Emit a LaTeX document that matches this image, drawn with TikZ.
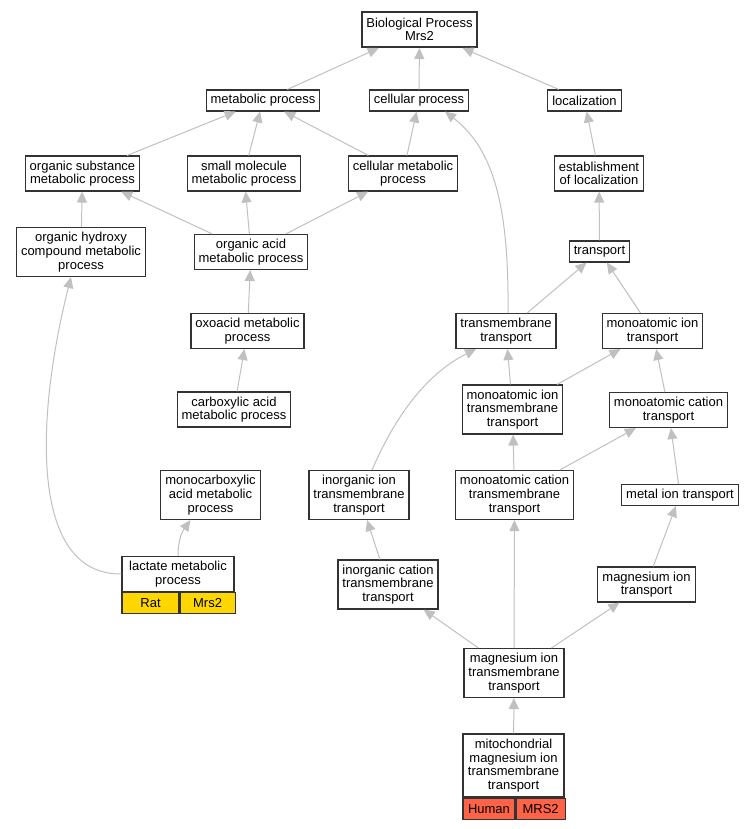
\documentclass[tikz,border=0pt]{standalone}
\usepackage{fontspec}
\setmainfont{Liberation Sans}
\usetikzlibrary{arrows.meta}
\definecolor{edgegray}{HTML}{C0C0C0}
\definecolor{ratgold}{HTML}{FFD700}
\definecolor{humanred}{HTML}{FF6347}
\begin{document}
\begin{tikzpicture}[>={Triangle[length=11pt,width=10pt]},x=1pt,y=-1pt,
	font=\fontsize{13}{13.7}\selectfont,
	term/.style={draw=black!80,line width=1.1pt,fill=white,align=center,inner xsep=4.5pt,inner ysep=3pt,minimum height=21pt},
	hh/.style={minimum height=35pt},
	hhh/.style={minimum height=49pt},
	hhhh/.style={minimum height=63pt},
	cell/.style={draw=black!80,line width=1.1pt,inner sep=0pt,minimum height=21pt,anchor=north west},
	edge/.style={->,draw=edgegray,line width=1pt}]
	\useasboundingbox (0,0) rectangle (755,829);
	% GO terms
	\node[term,hh,line width=2pt] (root) at (419.5,29.5) {Biological Process\\Mrs2};
	\node[term] (metab) at (263,100.5) {metabolic process};
	\node[term] (cellproc) at (419,100.5) {cellular process};
	\node[term] (localiz) at (584.5,100.5) {localization};
	\node[term,hh] (orgsub) at (82.5,173.5) {organic substance\\metabolic process};
	\node[term,hh] (smallmol) at (244,173.5) {small molecule\\metabolic process};
	\node[term,hh] (cellmet) at (403,173.5) {cellular metabolic\\process};
	\node[term,hh] (estab) at (599,173.5) {establishment\\of localization};
	\node[term,hhh] (hydroxy) at (81,252) {organic hydroxy\\compound metabolic\\process};
	\node[term,hh] (orgacid) at (251,252) {organic acid\\metabolic process};
	\node[term] (transp) at (599.5,251.5) {transport};
	\node[term,hh] (oxoacid) at (247.5,331) {oxoacid metabolic\\process};
	\node[term,hh] (tmtrans) at (506,331) {transmembrane\\transport};
	\node[term,hh] (monoion) at (652.5,331) {monoatomic ion\\transport};
	\node[term,hh] (carbox) at (234,409.5) {carboxylic acid\\metabolic process};
	\node[term,hhh] (monoiontm) at (512.5,409.5) {monoatomic ion\\transmembrane\\transport};
	\node[term,hh] (monocat) at (668.5,410) {monoatomic cation\\transport};
	\node[term,hhh] (monocarb) at (210.5,495) {monocarboxylic\\acid metabolic\\process};
	\node[term,hhh] (inorgion) at (359,495) {inorganic ion\\transmembrane\\transport};
	\node[term,hhh] (monocattm) at (514.5,495) {monoatomic cation\\transmembrane\\transport};
	\node[term] (metalion) at (680,495) {metal ion transport};
	\node[term,hh,minimum width=112pt] (lactate) at (178,574) {lactate metabolic\\process};
	\node[cell,fill=ratgold,minimum width=57pt] (ratorg) at (lactate.south west) {Rat};
	\node[cell,fill=ratgold,minimum width=55pt] (ratgene) at (ratorg.north east) {Mrs2};
	\node[term,hhh] (inorgcat) at (388,584.5) {inorganic cation\\transmembrane\\transport};
	\node[term,hh] (mgion) at (646.5,584.5) {magnesium ion\\transport};
	\node[term,hhh] (mgiontm) at (514,673) {magnesium ion\\transmembrane\\transport};
	\node[term,hhhh,minimum width=101pt] (mito) at (513.5,765.5) {mitochondrial\\magnesium ion\\transmembrane\\transport};
	\node[cell,fill=humanred,minimum width=52pt] (humorg) at (mito.south west) {Human};
	\node[cell,fill=humanred,minimum width=49pt] (humgene) at (humorg.north east) {MRS2};
	% is_a links, child to parent
	\foreach \c/\p in {metab/root,cellproc/root,localiz/root,orgsub/metab,smallmol/metab,
		cellmet/metab,cellmet/cellproc,estab/localiz,hydroxy/orgsub,orgacid/orgsub,
		orgacid/smallmol,orgacid/cellmet,transp/estab,oxoacid/orgacid,tmtrans/transp,
		monoion/transp,carbox/oxoacid,monoiontm/tmtrans,monoiontm/monoion,monocat/monoion,
		monocattm/monoiontm,monocattm/monocat,metalion/monocat,inorgcat/inorgion,
		mgion/metalion,mgiontm/inorgcat,mgiontm/monocattm,mgiontm/mgion,mito/mgiontm}
		\draw[edge] (\c) -- (\p);
	\draw[edge] (lactate.west) .. controls (30,575) and (35,420) .. ([xshift=-10pt]hydroxy.south);
	\draw[edge] (lactate.north) .. controls (178,540) and (182,532) .. ([xshift=-20pt]monocarb.south);
	\draw[edge] ([xshift=2pt]tmtrans.north) .. controls (509,210) and (495,150) .. ([xshift=26pt]cellproc.south);
	\draw[edge] ([xshift=13pt]inorgion.north) .. controls (398,410) and (430,372) .. ([xshift=-30pt]tmtrans.south);
\end{tikzpicture}
\end{document}
